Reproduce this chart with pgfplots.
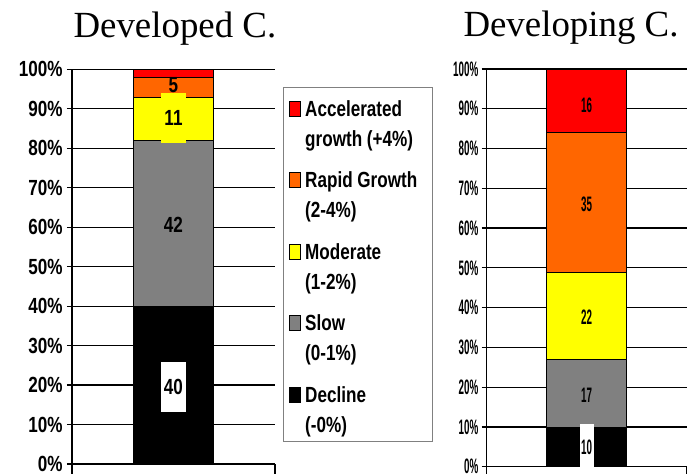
\documentclass[border=0pt]{standalone}
\usepackage{pgfplots}
\pgfplotsset{compat=1.18}
\usepackage{fontspec}
\setmainfont{Liberation Sans}
\newfontfamily\lft[FakeStretch=0.78]{Liberation Sans}
\newfontfamily\rgt[FakeStretch=0.47]{Liberation Sans}
\newfontfamily\ttl{Liberation Serif}
\definecolor{cRed}{HTML}{FF0000}
\definecolor{cOrange}{HTML}{FF6600}
\definecolor{cYellow}{HTML}{FFFF00}
\definecolor{cGray}{HTML}{808080}
\definecolor{cBlack}{HTML}{000000}
\pgfplotsset{
  chartbase/.style={
    scale only axis, xmin=0, xmax=1, ymin=0, ymax=100, clip=false,
    ybar stacked, bar width=80bp,
    axis lines*=left, axis line style={black, line width=1.2bp},
    xtick={0,1}, xticklabels={,,},
    ytick={0,10,...,100},
    yticklabels={0\%,10\%,20\%,30\%,40\%,50\%,60\%,70\%,80\%,90\%,100\%},
    tick align=outside,
    ytick style={black, line width=1.2bp, /pgfplots/major tick length=5bp},
    xtick style={black, line width=1.2bp, /pgfplots/major tick length=10bp},
    ymajorgrids, grid style={black, line width=1.2bp},
    /pgf/number format/assume math mode=true,
  },
  lblL/.style 2 args={every node near coord/.style={anchor=center, yshift=#1, text=black,
      font=\lft\bfseries\fontsize{22}{22}\selectfont, #2}},
  lblR/.style 2 args={every node near coord/.style={anchor=center, yshift=#1, text=black,
      font=\rgt\bfseries\fontsize{21}{21}\selectfont, #2}},
}
\newcommand{\legtxt}[2]{\begin{tabular}[b]{@{}p{121bp}@{}}#1\\#2\end{tabular}}
\begin{document}
\begin{tikzpicture}
\path[use as bounding box] (0,0) rectangle (692bp,474bp);
\begin{axis}[chartbase,
  at={(72bp,10bp)}, anchor=south west, width=203bp, height=394.7bp,
  yticklabel style={font=\lft\bfseries\fontsize{22}{22}\selectfont, inner sep=0pt, xshift=-5bp},
  title={Developed C.}, title style={at={(0.507,1.066)}, anchor=base, font=\ttl\fontsize{37}{37}\selectfont},
  legend style={at={(1.039,0.955)}, anchor=north west, draw=gray, line width=1bp,
    inner xsep=6bp, inner ysep=8bp, row sep=19.2bp, column sep=4bp,
    nodes={inner sep=0pt},
    font=\lft\bfseries\fontsize{22}{30}\selectfont},
  reverse legend, legend cell align=left,
  legend image code/.code={\draw[#1, draw=black, line width=0.8bp] (0bp,5.5bp) rectangle (11bp,20.5bp);},
]
\addplot[fill=cBlack, draw=black, line width=0.6bp, nodes near coords={40},
  lblL={-1.6bp}{fill=white, minimum height=50bp, inner xsep=3bp}]
  coordinates {(0.5,40)};
\addlegendentry{\legtxt{Decline}{(-0\%)}}
\addplot[fill=cGray, draw=black, line width=0.6bp, nodes near coords={42}, lblL={-1.6bp}{}]
  coordinates {(0.5,42)};
\addlegendentry{\legtxt{Slow}{(0-1\%)}}
\addplot[fill=cYellow, draw=black, line width=0.6bp, nodes near coords={11},
  lblL={0.4bp}{fill=cYellow, minimum height=50bp, inner xsep=3bp}]
  coordinates {(0.5,11)};
\addlegendentry{\legtxt{Moderate}{(1-2\%)}}
\addplot[fill=cOrange, draw=black, line width=0.6bp, nodes near coords={5}, lblL={2bp}{}]
  coordinates {(0.5,5)};
\addlegendentry{\legtxt{Rapid Growth}{(2-4\%)}}
\addplot[fill=cRed, draw=black, line width=0.6bp]
  coordinates {(0.5,2)};
\addlegendentry{\legtxt{Accelerated}{growth (+4\%)}}
\end{axis}
\begin{axis}[chartbase,
  at={(486.7bp,7.3bp)}, anchor=south west, width=200bp, height=397.7bp,
  yticklabel style={font=\rgt\bfseries\fontsize{21}{21}\selectfont, inner sep=0pt, xshift=-4bp},
  title={Developing C.}, title style={at={(0.4215,1.0655)}, anchor=base, font=\ttl\fontsize{37}{37}\selectfont},
]
\addplot[fill=cBlack, draw=black, line width=0.6bp, nodes near coords={10},
  lblR={0bp}{fill=white, minimum height=45bp, inner xsep=1.5bp}]
  coordinates {(0.5,10)};
\addplot[fill=cGray, draw=black, line width=0.6bp, nodes near coords={17}, lblR={-2bp}{}]
  coordinates {(0.5,17)};
\addplot[fill=cYellow, draw=black, line width=0.6bp, nodes near coords={22}, lblR={-1.2bp}{}]
  coordinates {(0.5,22)};
\addplot[fill=cOrange, draw=black, line width=0.6bp, nodes near coords={35}, lblR={-2bp}{}]
  coordinates {(0.5,35)};
\addplot[fill=cRed, draw=black, line width=0.6bp, nodes near coords={16}, lblR={-4.4bp}{}]
  coordinates {(0.5,16)};
\end{axis}
\end{tikzpicture}
\end{document}
